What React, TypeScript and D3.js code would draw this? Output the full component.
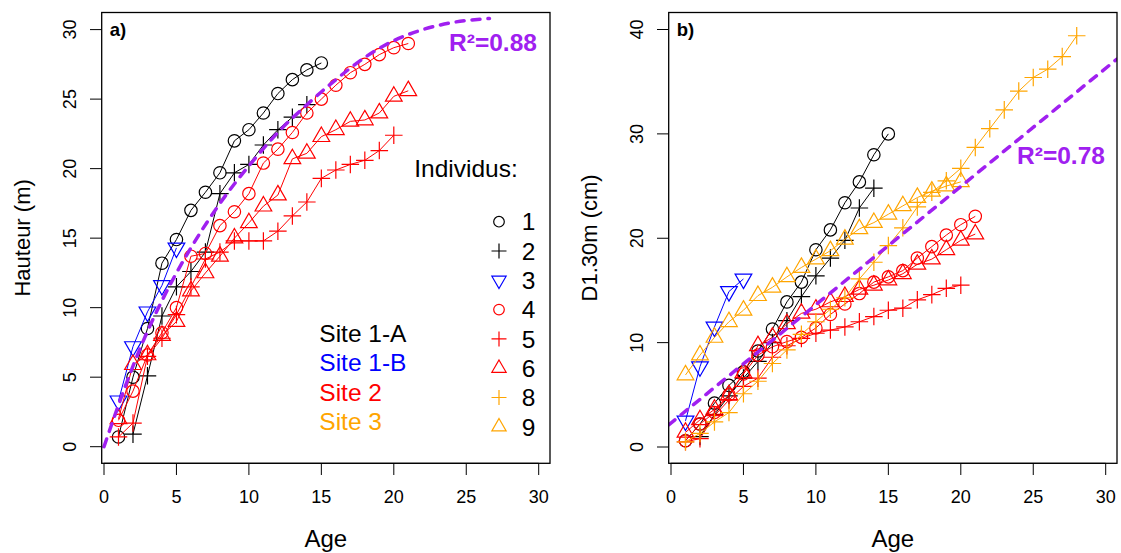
import React from "react";
import * as d3 from "d3";

// ---------- DATA ----------
// Panel a: height (m) by age; each series starts at the given age, yearly steps
const heightStart1 = 1;
const height1 = [0.7, 5.0, 8.5, 13.2, 14.9, 17.0, 18.3, 19.7, 22.0, 22.8, 24.0, 25.4, 26.4, 27.1, 27.6];
const heightStart2 = 2;
const height2 = [0.9, 5.1, 9.4, 11.5, 12.6, 14.0, 18.2, 19.7, 20.3, 21.7, 22.8, 23.7, 24.6];
const heightStart3 = 1;
const height3 = [3.3, 7.2, 9.7, 11.6, 14.3];
const heightStart4 = 1;
const height4 = [1.9, 4.0, 6.6, 8.2, 10.0, 13.7, 13.9, 15.9, 16.9, 18.2, 20.4, 21.4, 22.6, 24.0, 25.0, 26.0, 26.9, 27.5, 28.2, 28.7, 29.0];
const heightStart5 = 1;
const height5 = [0.7, 1.7, 6.5, 7.8, 9.5, 11.5, 13.5, 14.0, 14.8, 14.8, 14.8, 15.5, 16.6, 17.6, 19.3, 19.9, 20.3, 20.6, 21.3, 22.4];
const heightStart6 = 1;
const height6 = [2.0, 5.9, 6.6, 8.0, 9.0, 11.2, 12.5, 13.7, 15.0, 16.1, 17.3, 18.1, 20.7, 21.1, 22.3, 22.8, 23.4, 23.5, 24.0, 25.2, 25.6];

// Panel b: D1.30m (cm) by age
const diamStart1 = 1;
const diam1 = [0.6, 2.2, 4.2, 5.9, 7.2, 9.2, 11.3, 13.9, 15.8, 18.9, 20.8, 23.4, 25.4, 28.0, 30.0];
const diamStart2 = 2;
const diam2 = [1.0, 3.1, 4.9, 6.6, 8.2, 10.0, 12.1, 14.4, 16.4, 18.1, 19.8, 22.9, 24.8];
const diamStart3 = 1;
const diam3 = [2.5, 7.7, 11.5, 14.9, 16.1];
const diamStart4 = 1;
const diam4 = [0.6, 2.2, 3.3, 5.0, 7.0, 8.8, 9.6, 10.1, 10.5, 11.4, 12.7, 13.7, 14.7, 15.8, 16.3, 16.9, 18.1, 19.2, 20.3, 21.3, 22.1];
const diamStart5 = 1;
const diam5 = [0.5, 0.8, 3.0, 4.5, 5.8, 6.6, 8.6, 9.7, 10.4, 10.9, 11.2, 11.5, 12.0, 12.5, 13.1, 13.3, 14.1, 14.6, 15.2, 15.5];
const diamStart6 = 1;
const diam6 = [1.4, 2.6, 3.6, 5.0, 7.1, 9.7, 10.5, 11.8, 12.8, 13.2, 13.9, 14.4, 15.1, 15.5, 16.0, 16.6, 17.5, 18.0, 18.9, 19.8, 20.4];
const diamStart8 = 1;
const diam8 = [0.5, 1.3, 2.4, 3.3, 5.1, 6.3, 8.0, 9.3, 10.8, 12.0, 13.2, 14.3, 16.1, 17.7, 19.3, 21.0, 23.0, 24.4, 25.5, 26.7, 28.7, 30.5, 32.3, 34.1, 35.4, 36.2, 37.4, 39.4];
const diamStart9 = 1;
const diam9 = [6.9, 8.8, 10.5, 12.0, 13.1, 14.5, 15.3, 16.3, 17.2, 18.0, 18.8, 19.9, 20.9, 21.5, 22.3, 23.1, 23.9, 24.5, 25.0, 25.4];

// Fitted curve (panel a)
const fitAgeA = [0, 1, 2, 3, 4, 5, 6, 8, 10, 12, 14, 16, 18, 20, 22, 24, 26.6];
const fitHeightA = [0, 3.0, 5.8, 8.3, 10.5, 12.5, 14.3, 17.5, 20.2, 22.6, 24.6, 26.4, 28.0, 29.2, 30.0, 30.5, 30.8];
const r2A = "R²=0.88";
// Fitted line (panel b)
const fitInterceptB = 2.3;
const fitSlopeB = 1.133;
const r2B = "R²=0.78";

const xTicks = [0, 5, 10, 15, 20, 25, 30];
const yTicksA = [0, 5, 10, 15, 20, 25, 30];
const yTicksB = [0, 10, 20, 30, 40];

const legendIds = ["1", "2", "3", "4", "5", "6", "8", "9"];
const siteLabels = ["Site 1-A", "Site 1-B", "Site 2", "Site 3"];

// ---------- STYLE ----------
type Sym = "circle" | "plus" | "triDown" | "triUp";
const BLACK = "#000000";
const BLUE = "#0000FF";
const RED = "#FF0000";
const ORANGE = "#FFA500";
const PURPLE = "#A020F0";
const siteColors = [BLACK, BLUE, RED, ORANGE];
const legendStyles: { color: string; sym: Sym }[] = [
  { color: BLACK, sym: "circle" },
  { color: BLACK, sym: "plus" },
  { color: BLUE, sym: "triDown" },
  { color: RED, sym: "circle" },
  { color: RED, sym: "plus" },
  { color: RED, sym: "triUp" },
  { color: ORANGE, sym: "plus" },
  { color: ORANGE, sym: "triUp" },
];

type Series = { start: number; values: number[]; color: string; sym: Sym };
const seriesA: Series[] = [
  { start: heightStart1, values: height1, color: BLACK, sym: "circle" },
  { start: heightStart2, values: height2, color: BLACK, sym: "plus" },
  { start: heightStart3, values: height3, color: BLUE, sym: "triDown" },
  { start: heightStart4, values: height4, color: RED, sym: "circle" },
  { start: heightStart5, values: height5, color: RED, sym: "plus" },
  { start: heightStart6, values: height6, color: RED, sym: "triUp" },
];
const seriesB: Series[] = [
  { start: diamStart1, values: diam1, color: BLACK, sym: "circle" },
  { start: diamStart2, values: diam2, color: BLACK, sym: "plus" },
  { start: diamStart3, values: diam3, color: BLUE, sym: "triDown" },
  { start: diamStart4, values: diam4, color: RED, sym: "circle" },
  { start: diamStart5, values: diam5, color: RED, sym: "plus" },
  { start: diamStart6, values: diam6, color: RED, sym: "triUp" },
  { start: diamStart8, values: diam8, color: ORANGE, sym: "plus" },
  { start: diamStart9, values: diam9, color: ORANGE, sym: "triUp" },
];

const FONT = "'Liberation Sans', Arial, Helvetica, sans-serif";

function Symbol({ x, y, sym, color, u }: { x: number; y: number; sym: Sym; color: string; u: number }) {
  const sw = 1.2;
  if (sym === "circle") return <circle cx={x} cy={y} r={u} fill="none" stroke={color} strokeWidth={sw} />;
  if (sym === "plus") {
    const a = Math.SQRT2 * u;
    return <path d={`M${x - a},${y}H${x + a}M${x},${y - a}V${y + a}`} stroke={color} strokeWidth={sw} fill="none" />;
  }
  const r = 1.5551 * u;
  const xc = 1.3468 * u;
  const yc = 0.7776 * u;
  if (sym === "triUp")
    return <path d={`M${x},${y - r}L${x + xc},${y + yc}L${x - xc},${y + yc}Z`} stroke={color} strokeWidth={sw} fill="none" />;
  return <path d={`M${x},${y + r}L${x + xc},${y - yc}L${x - xc},${y - yc}Z`} stroke={color} strokeWidth={sw} fill="none" />;
}

type PanelProps = {
  left: number;
  right: number;
  top: number;
  bottom: number;
  x: d3.ScaleLinear<number, number>;
  y: d3.ScaleLinear<number, number>;
  yTicks: number[];
  series: Series[];
  tag: string;
  ylabel: string;
  clipId: string;
  children?: React.ReactNode;
};

function Panel({ left, right, top, bottom, x, y, yTicks, series, tag, ylabel, clipId, children }: PanelProps) {
  const U = 6.2;
  const line = d3
    .line<[number, number]>()
    .x((d) => x(d[0]))
    .y((d) => y(d[1]));
  const tickLen = 11.7;
  return (
    <g fontFamily={FONT}>
      <defs>
        <clipPath id={clipId}>
          <rect x={left} y={top} width={right - left} height={bottom - top} />
        </clipPath>
      </defs>
      {/* x axis */}
      <line x1={x(xTicks[0])} x2={x(xTicks[xTicks.length - 1])} y1={bottom} y2={bottom} stroke="#000" />
      {xTicks.map((t) => (
        <g key={"xt" + t}>
          <line x1={x(t)} x2={x(t)} y1={bottom} y2={bottom + tickLen} stroke="#000" />
          <text x={x(t)} y={503} fontSize={18} textAnchor="middle">
            {t}
          </text>
        </g>
      ))}
      {/* y axis */}
      {yTicks.map((t) => (
        <g key={"yt" + t}>
          <line x1={left - tickLen} x2={left} y1={y(t)} y2={y(t)} stroke="#000" />
          <text transform={`translate(${left - 25.3},${y(t)}) rotate(-90)`} fontSize={18} textAnchor="middle">
            {t}
          </text>
        </g>
      ))}
      <text x={(left + right) / 2} y={546.5} fontSize={24} textAnchor="middle">
        Age
      </text>
      <text transform={`translate(${left - 72},${(top + bottom) / 2}) rotate(-90)`} fontSize={22} textAnchor="middle">
        {ylabel}
      </text>
      {/* series */}
      <g clipPath={`url(#${clipId})`}>
        {series.map((s, i) => {
          const pts: [number, number][] = s.values.map((v, k) => [s.start + k, v]);
          return (
            <g key={"s" + i}>
              <path d={line(pts) || ""} fill="none" stroke={s.color} strokeWidth={1} />
              {pts.map((p, k) => (
                <Symbol key={k} x={x(p[0])} y={y(p[1])} sym={s.sym} color={s.color} u={U} />
              ))}
            </g>
          );
        })}
        {children}
      </g>
      <rect x={left} y={top} width={right - left} height={bottom - top} fill="none" stroke="#000" strokeWidth={1.3} />
      <text x={left + 8} y={36.3} fontSize={18.5} fontWeight="bold">
        {tag}
      </text>
    </g>
  );
}

export default function App() {
  const W = 1121;
  const H = 553;
  const top = 12.5;
  const bottom = 463.3;
  const aLeft = 101.7;
  const aRight = 550;
  const shift = 567;
  const xA = d3.scaleLinear().domain([0, 30]).range([104, 538.7]);
  const yA = d3.scaleLinear().domain([0, 30]).range([446.7, 29.6]);
  const xB = d3.scaleLinear().domain([0, 30]).range([104 + shift, 538.7 + shift]);
  const yB = d3.scaleLinear().domain([0, 40]).range([447, 29.5]);

  const fitLineA = d3
    .line<number>()
    .curve(d3.curveMonotoneX)
    .x((_, i) => xA(fitAgeA[i]))
    .y((d) => yA(d))(fitHeightA);

  const bDomain = [xB.invert(aLeft + shift), xB.invert(aRight + shift)];
  const fitLineB = d3
    .line<number>()
    .x((d) => xB(d))
    .y((d) => yB(fitInterceptB + fitSlopeB * d))(bDomain);

  const legendSymX = 499;
  const legendTextX = 521.7;
  const legendY0 = 221.7;
  const legendStep = 29.3;
  const siteX = 319.3;
  const siteY0 = 333.3;

  return (
    <svg width={W} height={H} style={{ position: "absolute", left: 0, top: 0, background: "#fff" }} fontFamily={FONT}>
      <rect x={0} y={0} width={W} height={H} fill="#fff" />
      <Panel
        left={aLeft}
        right={aRight}
        top={top}
        bottom={bottom}
        x={xA}
        y={yA}
        yTicks={yTicksA}
        series={seriesA}
        tag="a)"
        ylabel="Hauteur (m)"
        clipId="clipA"
      >
        <path d={fitLineA || ""} fill="none" stroke={PURPLE} strokeWidth={3.5} strokeDasharray="8 8" strokeLinecap="round" />
      </Panel>
      <Panel
        left={aLeft + shift}
        right={aRight + shift}
        top={top}
        bottom={bottom}
        x={xB}
        y={yB}
        yTicks={yTicksB}
        series={seriesB}
        tag="b)"
        ylabel="D1.30m (cm)"
        clipId="clipB"
      >
        <path d={fitLineB || ""} fill="none" stroke={PURPLE} strokeWidth={3.5} strokeDasharray="8 8" strokeLinecap="round" />
      </Panel>
      {/* R² labels */}
      <text x={493} y={50.8} fontSize={24.5} fontWeight="bold" fill={PURPLE} textAnchor="middle" fontFamily={FONT}>
        {r2A}
      </text>
      <text x={1061} y={163.8} fontSize={24.5} fontWeight="bold" fill={PURPLE} textAnchor="middle" fontFamily={FONT}>
        {r2B}
      </text>
      {/* Legend */}
      <text x={466} y={176.7} fontSize={24.5} textAnchor="middle" fontFamily={FONT}>
        Individus:
      </text>
      {legendIds.map((id, i) => (
        <g key={"lg" + id}>
          <Symbol x={legendSymX} y={legendY0 + i * legendStep} sym={legendStyles[i].sym} color={legendStyles[i].color} u={5.3} />
          <text x={legendTextX} y={legendY0 + i * legendStep + 8.7} fontSize={24.5} fontFamily={FONT}>
            {id}
          </text>
        </g>
      ))}
      {siteLabels.map((s, i) => (
        <text key={s} x={siteX} y={siteY0 + i * legendStep + 8.7} fontSize={24.5} fill={siteColors[i]} fontFamily={FONT}>
          {s}
        </text>
      ))}
    </svg>
  );
}
